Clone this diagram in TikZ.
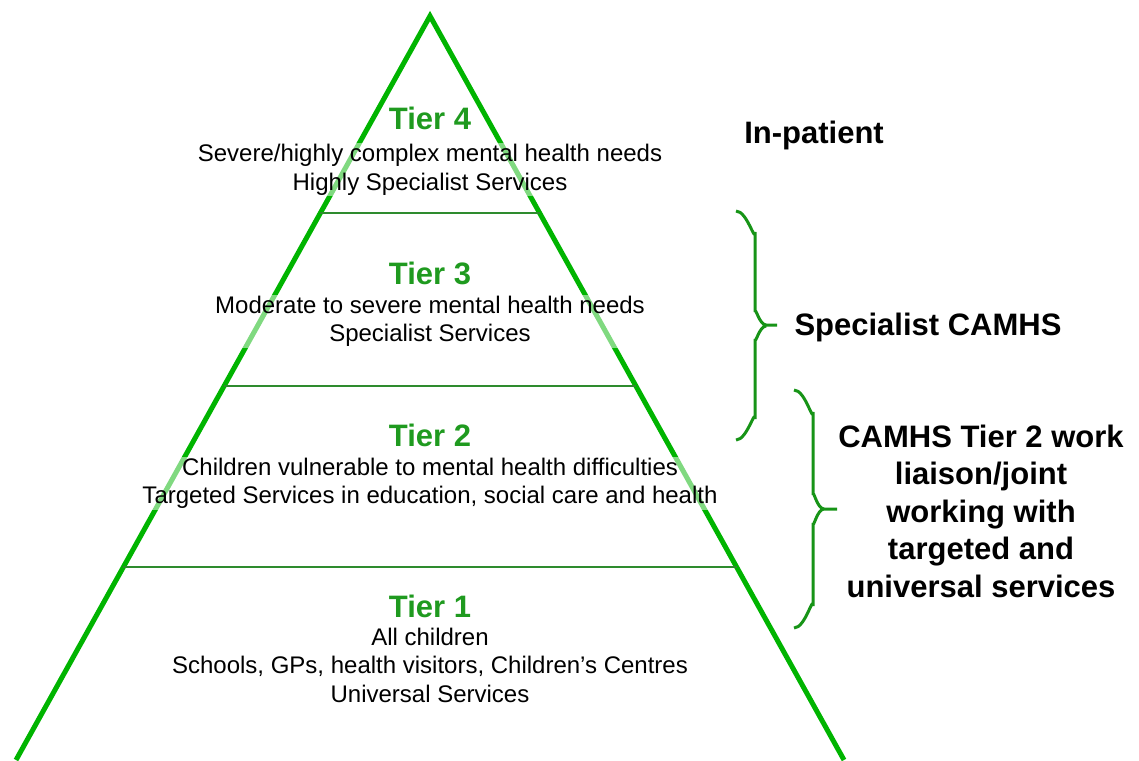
\documentclass[tikz,border=0pt]{standalone}
\usepackage{fontspec}
\setmainfont{Liberation Sans}
\usepackage{tikz}
\usetikzlibrary{calc}

\definecolor{tribright}{HTML}{00B400}
\definecolor{tiergreen}{HTML}{1F9A1F}
\definecolor{bracegreen}{HTML}{179417}
\definecolor{rulegreen}{HTML}{2E8B2E}

\tikzset{
    tierlabel/.style={font=\fontsize{31}{31}\selectfont\bfseries, text=tiergreen, anchor=base, inner sep=0pt},
    tierdesc/.style={font=\fontsize{24}{28.5}\selectfont, align=center, anchor=north, inner sep=1pt,
        fill=white, fill opacity=0.5, text opacity=1},
    sidelabel/.style={font=\fontsize{31}{37.5}\selectfont\bfseries, align=center, inner sep=0pt},
    servicebrace/.style={draw=bracegreen, line width=3pt},
}

\begin{document}
\begin{tikzpicture}[x=1pt, y=-1pt]
    \useasboundingbox (0,0) rectangle (1139,760);

    % the pyramid
    \coordinate (apex) at (430,16);
    \coordinate (botleft) at (16,760);
    \coordinate (botright) at (844,760);
    \draw[tribright, line width=5pt] (botleft) -- (apex) -- (botright);
    \foreach \f in {0.2648, 0.4973, 0.7406}
        \draw[rulegreen, line width=2pt] ($(apex)!\f!(botleft)$) -- ($(apex)!\f!(botright)$);

    % tiers
    \node[tierlabel] (tier4) at (430,129) {Tier 4};
    \node[tierdesc] (desc4) at (430,143) {Severe/highly complex mental health needs\\Highly Specialist Services};
    \node[tierlabel] (tier3) at (430,284) {Tier 3};
    \node[tierdesc] (desc3) at (430,294.5) {Moderate to severe mental health needs\\Specialist Services};
    \node[tierlabel] (tier2) at (430,446) {Tier 2};
    \node[tierdesc] (desc2) at (430,456.5) {Children vulnerable to mental health difficulties\\Targeted Services in education, social care and health};
    \node[tierlabel] (tier1) at (430,617) {Tier 1};
    \node[tierdesc] (desc1) at (430,626.5) {All children\\Schools, GPs, health visitors, Children's Centres\\Universal Services};

    % right hand side
    \node[sidelabel, anchor=base] (inpatient) at (814,143) {In-patient};
    \coordinate (spectop) at (736,211);
    \coordinate (specbot) at (736,440);
    \draw[servicebrace] (spectop) to[out=0,in=-90] ++(19,21) -- ++(0,80) to[out=90,in=180] ++(11,13) -- ++(11,0)
        (specbot) to[out=0,in=90] ++(19,-21) -- ++(0,-80) to[out=-90,in=180] ++(11,-13);
    \node[sidelabel, anchor=base] (specialist) at (928,335) {Specialist CAMHS};
    \coordinate (jointtop) at (794,390);
    \coordinate (jointbot) at (794,628);
    \draw[servicebrace] (jointtop) to[out=0,in=-90] ++(19,22) -- ++(0,83) to[out=90,in=180] ++(11,14) -- ++(13,0)
        (jointbot) to[out=0,in=90] ++(19,-22) -- ++(0,-83) to[out=-90,in=180] ++(11,-14);
    \node[sidelabel, anchor=north] (liaison) at (981,424.5) {CAMHS Tier 2 work\\liaison/joint\\working with\\targeted and\\universal services};
\end{tikzpicture}
\end{document}
